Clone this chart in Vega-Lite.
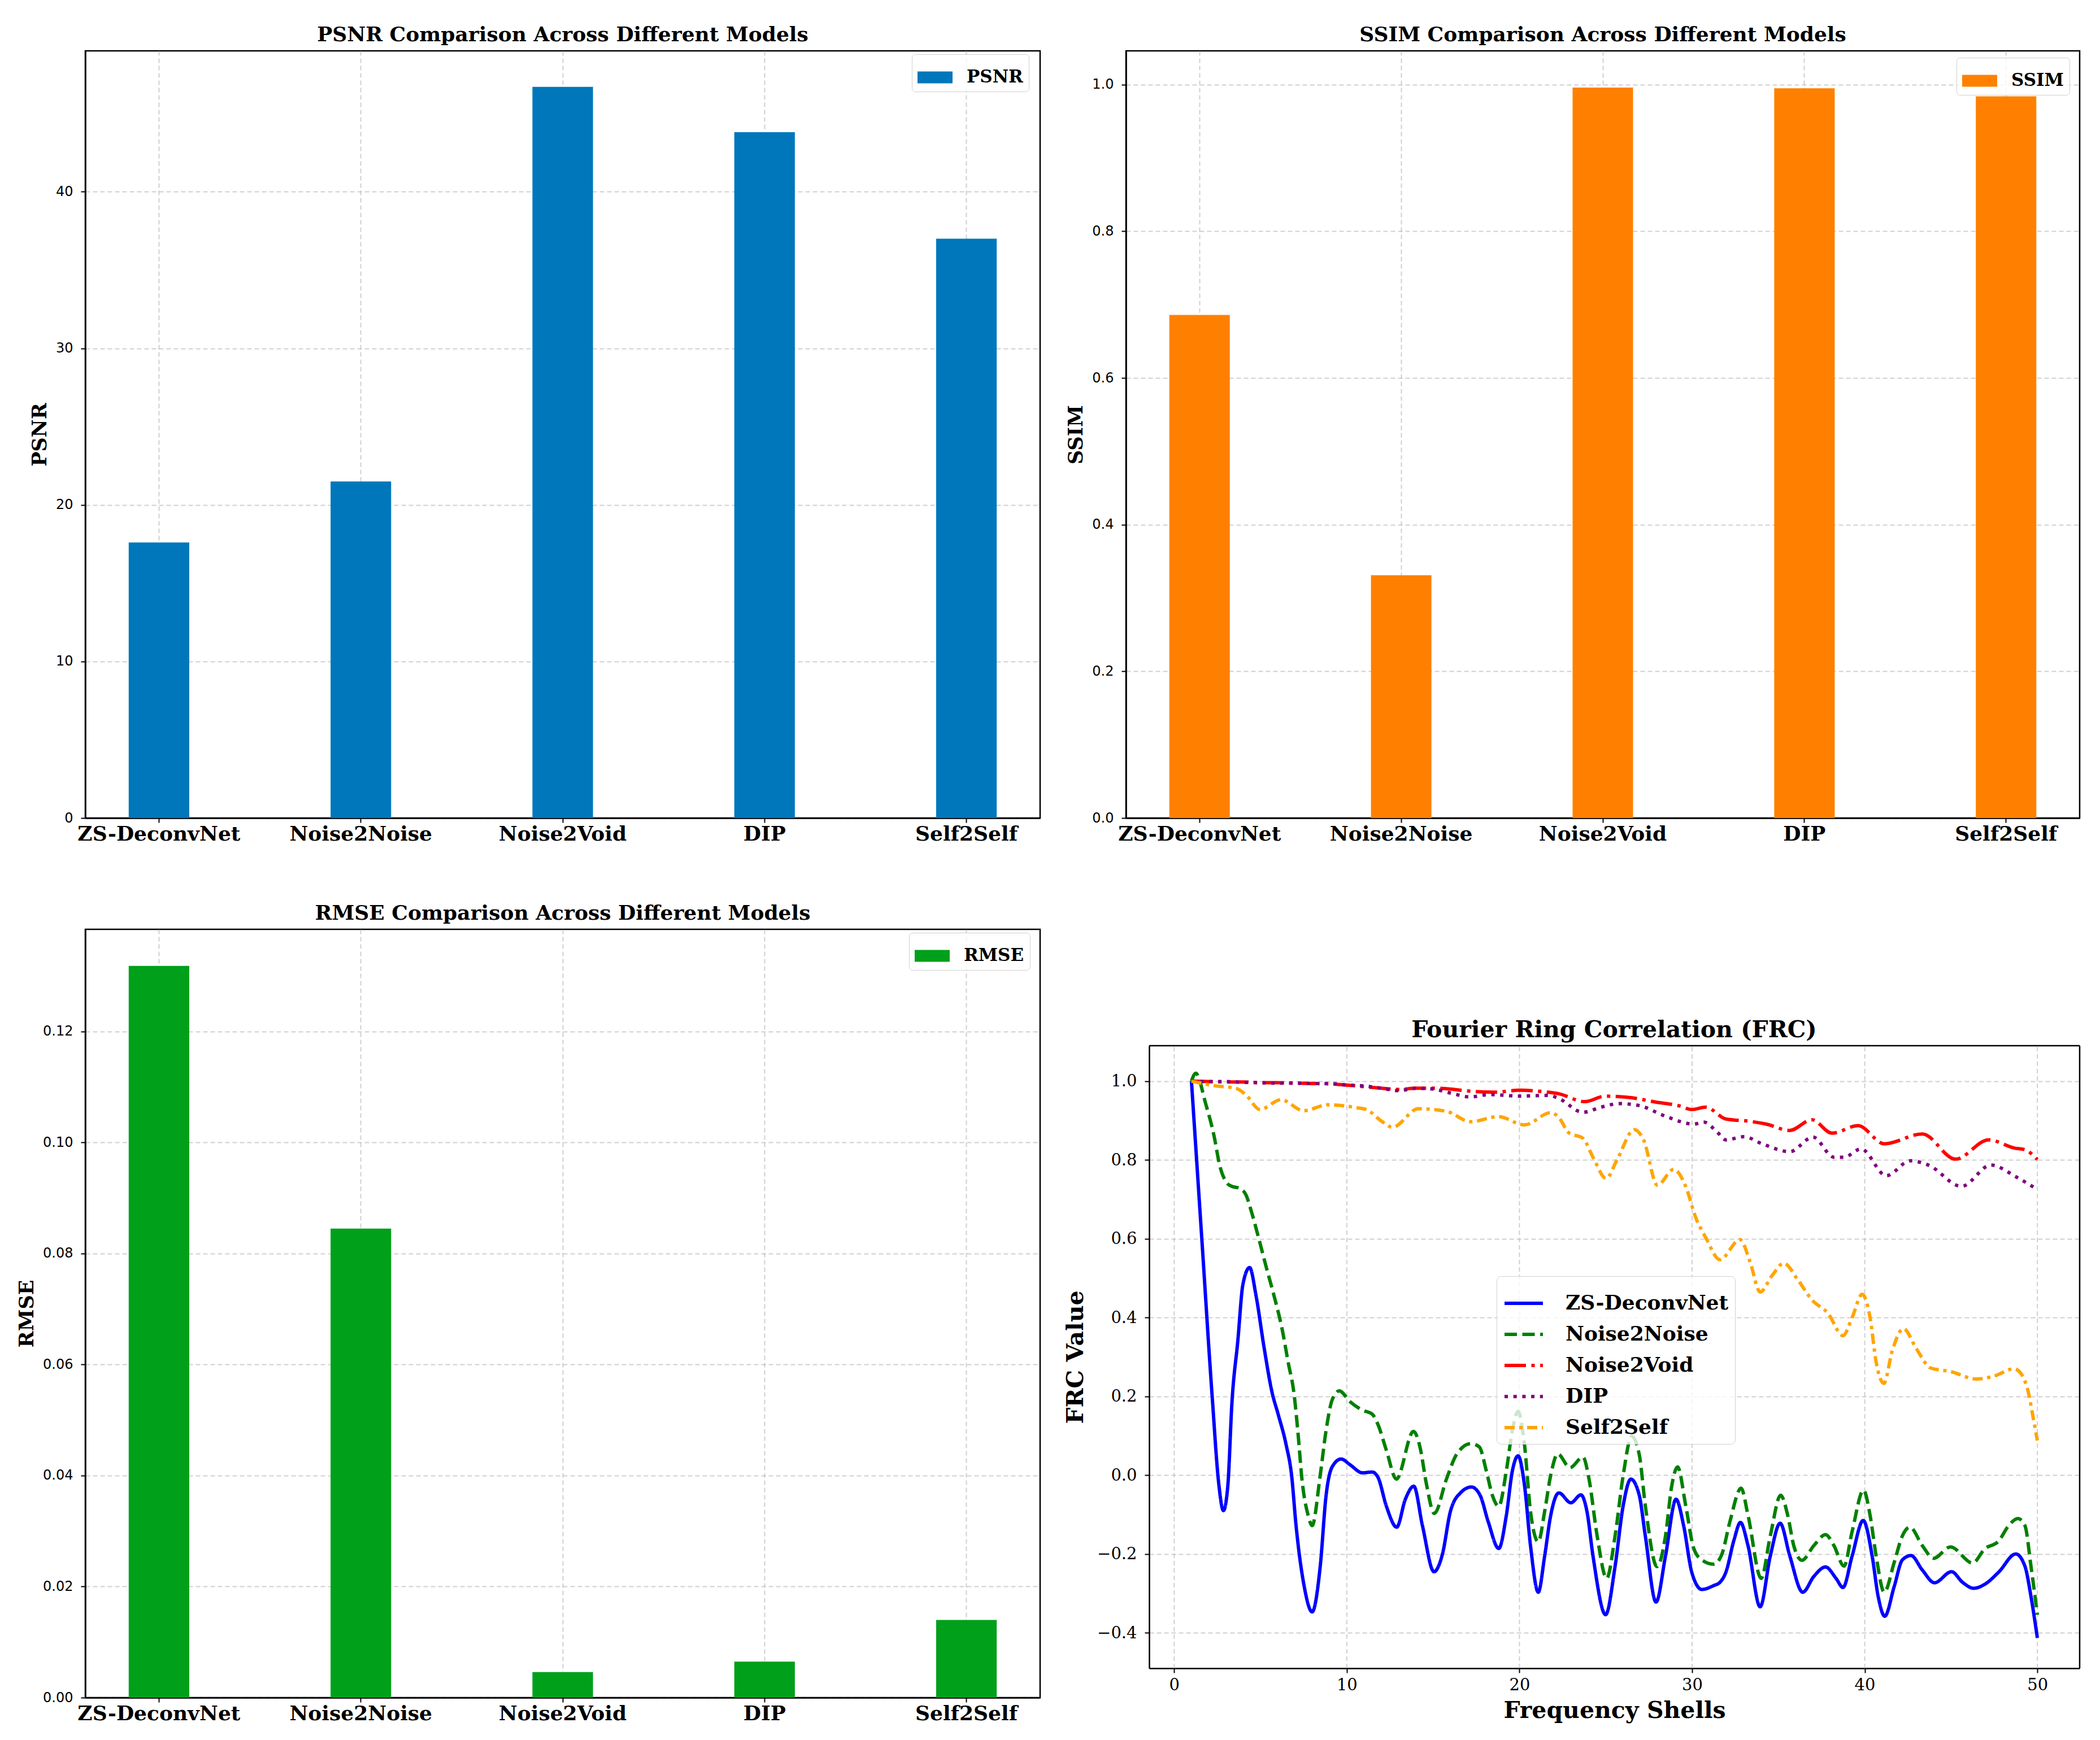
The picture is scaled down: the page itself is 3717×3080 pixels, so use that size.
{
  "$schema": "https://vega.github.io/schema/vega-lite/v6.json",
  "background": "white",
  "padding": {"left": 29, "top": 42, "right": 0, "bottom": 0},
  "datasets": {
    "metrics": [
      {"model": "ZS-DeconvNet", "PSNR": 17.6, "SSIM": 0.686, "RMSE": 0.1318},
      {"model": "Noise2Noise", "PSNR": 21.5, "SSIM": 0.331, "RMSE": 0.0845},
      {"model": "Noise2Void", "PSNR": 46.7, "SSIM": 0.996, "RMSE": 0.0046},
      {"model": "DIP", "PSNR": 43.8, "SSIM": 0.995, "RMSE": 0.0065},
      {"model": "Self2Self", "PSNR": 37.0, "SSIM": 0.984, "RMSE": 0.014}
    ],
    "frcgrid": [
      {"shell": 0}, {"shell": 10}, {"shell": 20}, {"shell": 30}, {"shell": 40}, {"shell": 50}
    ],
    "frc": [
      {"series": "ZS-DeconvNet", "shell": 1, "frc": 1.0},
      {"series": "ZS-DeconvNet", "shell": 1.6, "frc": 0.6},
      {"series": "ZS-DeconvNet", "shell": 2.2, "frc": 0.2},
      {"series": "ZS-DeconvNet", "shell": 2.59, "frc": -0.025},
      {"series": "ZS-DeconvNet", "shell": 2.85, "frc": -0.09},
      {"series": "ZS-DeconvNet", "shell": 3.11, "frc": -0.025},
      {"series": "ZS-DeconvNet", "shell": 3.34, "frc": 0.18},
      {"series": "ZS-DeconvNet", "shell": 3.69, "frc": 0.343},
      {"series": "ZS-DeconvNet", "shell": 3.98, "frc": 0.484},
      {"series": "ZS-DeconvNet", "shell": 4.37, "frc": 0.527},
      {"series": "ZS-DeconvNet", "shell": 4.74, "frc": 0.456},
      {"series": "ZS-DeconvNet", "shell": 5.2, "frc": 0.326},
      {"series": "ZS-DeconvNet", "shell": 5.67, "frc": 0.21},
      {"series": "ZS-DeconvNet", "shell": 6.02, "frc": 0.155},
      {"series": "ZS-DeconvNet", "shell": 6.48, "frc": 0.078},
      {"series": "ZS-DeconvNet", "shell": 6.8, "frc": 0.0},
      {"series": "ZS-DeconvNet", "shell": 7.06, "frc": -0.128},
      {"series": "ZS-DeconvNet", "shell": 7.53, "frc": -0.282},
      {"series": "ZS-DeconvNet", "shell": 7.99, "frc": -0.347},
      {"series": "ZS-DeconvNet", "shell": 8.46, "frc": -0.231},
      {"series": "ZS-DeconvNet", "shell": 8.8, "frc": -0.051},
      {"series": "ZS-DeconvNet", "shell": 9.15, "frc": 0.021},
      {"series": "ZS-DeconvNet", "shell": 9.67, "frc": 0.041},
      {"series": "ZS-DeconvNet", "shell": 10.2, "frc": 0.026},
      {"series": "ZS-DeconvNet", "shell": 10.9, "frc": 0.006},
      {"series": "ZS-DeconvNet", "shell": 11.47, "frc": 0.008},
      {"series": "ZS-DeconvNet", "shell": 11.8, "frc": -0.005},
      {"series": "ZS-DeconvNet", "shell": 12.3, "frc": -0.08},
      {"series": "ZS-DeconvNet", "shell": 12.89, "frc": -0.132},
      {"series": "ZS-DeconvNet", "shell": 13.39, "frc": -0.061},
      {"series": "ZS-DeconvNet", "shell": 13.88, "frc": -0.028},
      {"series": "ZS-DeconvNet", "shell": 14.38, "frc": -0.128},
      {"series": "ZS-DeconvNet", "shell": 15.05, "frc": -0.245},
      {"series": "ZS-DeconvNet", "shell": 15.54, "frc": -0.2},
      {"series": "ZS-DeconvNet", "shell": 16.0, "frc": -0.092},
      {"series": "ZS-DeconvNet", "shell": 16.58, "frc": -0.045},
      {"series": "ZS-DeconvNet", "shell": 17.22, "frc": -0.03},
      {"series": "ZS-DeconvNet", "shell": 17.72, "frc": -0.051},
      {"series": "ZS-DeconvNet", "shell": 18.19, "frc": -0.118},
      {"series": "ZS-DeconvNet", "shell": 18.8, "frc": -0.186},
      {"series": "ZS-DeconvNet", "shell": 19.24, "frc": -0.102},
      {"series": "ZS-DeconvNet", "shell": 19.59, "frc": 0.011},
      {"series": "ZS-DeconvNet", "shell": 19.92, "frc": 0.049},
      {"series": "ZS-DeconvNet", "shell": 20.29, "frc": -0.025},
      {"series": "ZS-DeconvNet", "shell": 20.64, "frc": -0.179},
      {"series": "ZS-DeconvNet", "shell": 21.09, "frc": -0.297},
      {"series": "ZS-DeconvNet", "shell": 21.46, "frc": -0.205},
      {"series": "ZS-DeconvNet", "shell": 21.81, "frc": -0.102},
      {"series": "ZS-DeconvNet", "shell": 22.28, "frc": -0.045},
      {"series": "ZS-DeconvNet", "shell": 22.98, "frc": -0.07},
      {"series": "ZS-DeconvNet", "shell": 23.56, "frc": -0.05},
      {"series": "ZS-DeconvNet", "shell": 23.91, "frc": -0.092},
      {"series": "ZS-DeconvNet", "shell": 24.26, "frc": -0.205},
      {"series": "ZS-DeconvNet", "shell": 24.99, "frc": -0.354},
      {"series": "ZS-DeconvNet", "shell": 25.54, "frc": -0.231},
      {"series": "ZS-DeconvNet", "shell": 26.01, "frc": -0.077},
      {"series": "ZS-DeconvNet", "shell": 26.45, "frc": -0.01},
      {"series": "ZS-DeconvNet", "shell": 26.94, "frc": -0.051},
      {"series": "ZS-DeconvNet", "shell": 27.29, "frc": -0.154},
      {"series": "ZS-DeconvNet", "shell": 27.91, "frc": -0.322},
      {"series": "ZS-DeconvNet", "shell": 28.46, "frc": -0.205},
      {"series": "ZS-DeconvNet", "shell": 29.07, "frc": -0.061},
      {"series": "ZS-DeconvNet", "shell": 29.51, "frc": -0.128},
      {"series": "ZS-DeconvNet", "shell": 29.98, "frc": -0.246},
      {"series": "ZS-DeconvNet", "shell": 30.56, "frc": -0.29},
      {"series": "ZS-DeconvNet", "shell": 31.26, "frc": -0.28},
      {"series": "ZS-DeconvNet", "shell": 31.61, "frc": -0.272},
      {"series": "ZS-DeconvNet", "shell": 31.96, "frc": -0.246},
      {"series": "ZS-DeconvNet", "shell": 32.43, "frc": -0.164},
      {"series": "ZS-DeconvNet", "shell": 32.8, "frc": -0.12},
      {"series": "ZS-DeconvNet", "shell": 33.24, "frc": -0.179},
      {"series": "ZS-DeconvNet", "shell": 33.94, "frc": -0.334},
      {"series": "ZS-DeconvNet", "shell": 34.53, "frc": -0.205},
      {"series": "ZS-DeconvNet", "shell": 35.1, "frc": -0.122},
      {"series": "ZS-DeconvNet", "shell": 35.66, "frc": -0.205},
      {"series": "ZS-DeconvNet", "shell": 36.41, "frc": -0.297},
      {"series": "ZS-DeconvNet", "shell": 37.05, "frc": -0.257},
      {"series": "ZS-DeconvNet", "shell": 37.73, "frc": -0.233},
      {"series": "ZS-DeconvNet", "shell": 38.34, "frc": -0.262},
      {"series": "ZS-DeconvNet", "shell": 38.74, "frc": -0.285},
      {"series": "ZS-DeconvNet", "shell": 39.27, "frc": -0.205},
      {"series": "ZS-DeconvNet", "shell": 39.91, "frc": -0.115},
      {"series": "ZS-DeconvNet", "shell": 40.43, "frc": -0.205},
      {"series": "ZS-DeconvNet", "shell": 40.78, "frc": -0.308},
      {"series": "ZS-DeconvNet", "shell": 41.16, "frc": -0.358},
      {"series": "ZS-DeconvNet", "shell": 41.71, "frc": -0.282},
      {"series": "ZS-DeconvNet", "shell": 42.18, "frc": -0.215},
      {"series": "ZS-DeconvNet", "shell": 42.68, "frc": -0.204},
      {"series": "ZS-DeconvNet", "shell": 43.34, "frc": -0.241},
      {"series": "ZS-DeconvNet", "shell": 44.04, "frc": -0.273},
      {"series": "ZS-DeconvNet", "shell": 45.03, "frc": -0.245},
      {"series": "ZS-DeconvNet", "shell": 45.67, "frc": -0.272},
      {"series": "ZS-DeconvNet", "shell": 46.31, "frc": -0.287},
      {"series": "ZS-DeconvNet", "shell": 46.95, "frc": -0.277},
      {"series": "ZS-DeconvNet", "shell": 47.76, "frc": -0.246},
      {"series": "ZS-DeconvNet", "shell": 48.75, "frc": -0.2},
      {"series": "ZS-DeconvNet", "shell": 49.28, "frc": -0.231},
      {"series": "ZS-DeconvNet", "shell": 49.63, "frc": -0.308},
      {"series": "ZS-DeconvNet", "shell": 50, "frc": -0.413},
      {"series": "Noise2Noise", "shell": 1, "frc": 1.0},
      {"series": "Noise2Noise", "shell": 1.25, "frc": 1.02},
      {"series": "Noise2Noise", "shell": 1.83, "frc": 0.942},
      {"series": "Noise2Noise", "shell": 2.3, "frc": 0.863},
      {"series": "Noise2Noise", "shell": 2.65, "frc": 0.784},
      {"series": "Noise2Noise", "shell": 3.05, "frc": 0.742},
      {"series": "Noise2Noise", "shell": 3.34, "frc": 0.733},
      {"series": "Noise2Noise", "shell": 3.81, "frc": 0.728},
      {"series": "Noise2Noise", "shell": 4.16, "frc": 0.711},
      {"series": "Noise2Noise", "shell": 4.5, "frc": 0.665},
      {"series": "Noise2Noise", "shell": 4.85, "frc": 0.609},
      {"series": "Noise2Noise", "shell": 5.32, "frc": 0.53},
      {"series": "Noise2Noise", "shell": 5.78, "frc": 0.456},
      {"series": "Noise2Noise", "shell": 6.25, "frc": 0.371},
      {"series": "Noise2Noise", "shell": 6.6, "frc": 0.287},
      {"series": "Noise2Noise", "shell": 6.95, "frc": 0.204},
      {"series": "Noise2Noise", "shell": 7.18, "frc": 0.103},
      {"series": "Noise2Noise", "shell": 7.4, "frc": -0.01},
      {"series": "Noise2Noise", "shell": 7.76, "frc": -0.102},
      {"series": "Noise2Noise", "shell": 7.99, "frc": -0.128},
      {"series": "Noise2Noise", "shell": 8.46, "frc": 0.0},
      {"series": "Noise2Noise", "shell": 8.8, "frc": 0.114},
      {"series": "Noise2Noise", "shell": 9.15, "frc": 0.191},
      {"series": "Noise2Noise", "shell": 9.56, "frc": 0.214},
      {"series": "Noise2Noise", "shell": 10.2, "frc": 0.186},
      {"series": "Noise2Noise", "shell": 10.9, "frc": 0.165},
      {"series": "Noise2Noise", "shell": 11.47, "frc": 0.155},
      {"series": "Noise2Noise", "shell": 11.8, "frc": 0.129},
      {"series": "Noise2Noise", "shell": 12.3, "frc": 0.062},
      {"series": "Noise2Noise", "shell": 12.87, "frc": -0.01},
      {"series": "Noise2Noise", "shell": 13.86, "frc": 0.111},
      {"series": "Noise2Noise", "shell": 14.26, "frc": 0.067},
      {"series": "Noise2Noise", "shell": 14.6, "frc": -0.02},
      {"series": "Noise2Noise", "shell": 15.07, "frc": -0.097},
      {"series": "Noise2Noise", "shell": 15.77, "frc": -0.01},
      {"series": "Noise2Noise", "shell": 16.35, "frc": 0.052},
      {"series": "Noise2Noise", "shell": 17.17, "frc": 0.08},
      {"series": "Noise2Noise", "shell": 17.67, "frc": 0.072},
      {"series": "Noise2Noise", "shell": 18.08, "frc": 0.011},
      {"series": "Noise2Noise", "shell": 18.43, "frc": -0.051},
      {"series": "Noise2Noise", "shell": 18.8, "frc": -0.079},
      {"series": "Noise2Noise", "shell": 19.24, "frc": 0.011},
      {"series": "Noise2Noise", "shell": 19.59, "frc": 0.114},
      {"series": "Noise2Noise", "shell": 19.92, "frc": 0.162},
      {"series": "Noise2Noise", "shell": 20.29, "frc": 0.078},
      {"series": "Noise2Noise", "shell": 20.64, "frc": -0.092},
      {"series": "Noise2Noise", "shell": 21.09, "frc": -0.169},
      {"series": "Noise2Noise", "shell": 21.46, "frc": -0.092},
      {"series": "Noise2Noise", "shell": 21.81, "frc": 0.0},
      {"series": "Noise2Noise", "shell": 22.22, "frc": 0.054},
      {"series": "Noise2Noise", "shell": 22.92, "frc": 0.019},
      {"series": "Noise2Noise", "shell": 23.68, "frc": 0.046},
      {"series": "Noise2Noise", "shell": 24.03, "frc": -0.01},
      {"series": "Noise2Noise", "shell": 24.5, "frc": -0.154},
      {"series": "Noise2Noise", "shell": 25.05, "frc": -0.262},
      {"series": "Noise2Noise", "shell": 25.54, "frc": -0.154},
      {"series": "Noise2Noise", "shell": 26.01, "frc": 0.0},
      {"series": "Noise2Noise", "shell": 26.5, "frc": 0.099},
      {"series": "Noise2Noise", "shell": 26.94, "frc": 0.052},
      {"series": "Noise2Noise", "shell": 27.29, "frc": -0.077},
      {"series": "Noise2Noise", "shell": 27.97, "frc": -0.232},
      {"series": "Noise2Noise", "shell": 28.46, "frc": -0.154},
      {"series": "Noise2Noise", "shell": 28.81, "frc": -0.03},
      {"series": "Noise2Noise", "shell": 29.16, "frc": 0.021},
      {"series": "Noise2Noise", "shell": 29.63, "frc": -0.077},
      {"series": "Noise2Noise", "shell": 30.09, "frc": -0.185},
      {"series": "Noise2Noise", "shell": 30.56, "frc": -0.215},
      {"series": "Noise2Noise", "shell": 31.26, "frc": -0.226},
      {"series": "Noise2Noise", "shell": 31.73, "frc": -0.2},
      {"series": "Noise2Noise", "shell": 32.19, "frc": -0.118},
      {"series": "Noise2Noise", "shell": 32.84, "frc": -0.033},
      {"series": "Noise2Noise", "shell": 33.24, "frc": -0.102},
      {"series": "Noise2Noise", "shell": 34.0, "frc": -0.262},
      {"series": "Noise2Noise", "shell": 34.53, "frc": -0.154},
      {"series": "Noise2Noise", "shell": 35.13, "frc": -0.051},
      {"series": "Noise2Noise", "shell": 35.54, "frc": -0.102},
      {"series": "Noise2Noise", "shell": 35.89, "frc": -0.179},
      {"series": "Noise2Noise", "shell": 36.36, "frc": -0.216},
      {"series": "Noise2Noise", "shell": 37.05, "frc": -0.179},
      {"series": "Noise2Noise", "shell": 37.73, "frc": -0.151},
      {"series": "Noise2Noise", "shell": 38.22, "frc": -0.179},
      {"series": "Noise2Noise", "shell": 38.8, "frc": -0.231},
      {"series": "Noise2Noise", "shell": 39.27, "frc": -0.143},
      {"series": "Noise2Noise", "shell": 39.93, "frc": -0.038},
      {"series": "Noise2Noise", "shell": 40.31, "frc": -0.102},
      {"series": "Noise2Noise", "shell": 40.66, "frc": -0.205},
      {"series": "Noise2Noise", "shell": 41.13, "frc": -0.297},
      {"series": "Noise2Noise", "shell": 41.71, "frc": -0.221},
      {"series": "Noise2Noise", "shell": 42.18, "frc": -0.154},
      {"series": "Noise2Noise", "shell": 42.62, "frc": -0.132},
      {"series": "Noise2Noise", "shell": 43.34, "frc": -0.179},
      {"series": "Noise2Noise", "shell": 43.98, "frc": -0.211},
      {"series": "Noise2Noise", "shell": 44.97, "frc": -0.182},
      {"series": "Noise2Noise", "shell": 46.25, "frc": -0.223},
      {"series": "Noise2Noise", "shell": 46.95, "frc": -0.187},
      {"series": "Noise2Noise", "shell": 47.76, "frc": -0.167},
      {"series": "Noise2Noise", "shell": 48.34, "frc": -0.128},
      {"series": "Noise2Noise", "shell": 48.87, "frc": -0.11},
      {"series": "Noise2Noise", "shell": 49.28, "frc": -0.128},
      {"series": "Noise2Noise", "shell": 49.63, "frc": -0.231},
      {"series": "Noise2Noise", "shell": 50, "frc": -0.354},
      {"series": "Noise2Void", "shell": 1, "frc": 1.0},
      {"series": "Noise2Void", "shell": 2, "frc": 0.999},
      {"series": "Noise2Void", "shell": 3, "frc": 0.998},
      {"series": "Noise2Void", "shell": 4, "frc": 0.998},
      {"series": "Noise2Void", "shell": 5, "frc": 0.996},
      {"series": "Noise2Void", "shell": 6, "frc": 0.996},
      {"series": "Noise2Void", "shell": 7, "frc": 0.995},
      {"series": "Noise2Void", "shell": 8, "frc": 0.994},
      {"series": "Noise2Void", "shell": 9, "frc": 0.993},
      {"series": "Noise2Void", "shell": 10, "frc": 0.99},
      {"series": "Noise2Void", "shell": 11, "frc": 0.986},
      {"series": "Noise2Void", "shell": 12, "frc": 0.982},
      {"series": "Noise2Void", "shell": 13, "frc": 0.979},
      {"series": "Noise2Void", "shell": 14, "frc": 0.982},
      {"series": "Noise2Void", "shell": 15, "frc": 0.982},
      {"series": "Noise2Void", "shell": 16, "frc": 0.98},
      {"series": "Noise2Void", "shell": 16.79, "frc": 0.976},
      {"series": "Noise2Void", "shell": 18.54, "frc": 0.972},
      {"series": "Noise2Void", "shell": 20, "frc": 0.977},
      {"series": "Noise2Void", "shell": 21.46, "frc": 0.973},
      {"series": "Noise2Void", "shell": 22.28, "frc": 0.968},
      {"series": "Noise2Void", "shell": 23.79, "frc": 0.948},
      {"series": "Noise2Void", "shell": 24.96, "frc": 0.962},
      {"series": "Noise2Void", "shell": 26.48, "frc": 0.958},
      {"series": "Noise2Void", "shell": 27.88, "frc": 0.947},
      {"series": "Noise2Void", "shell": 29.28, "frc": 0.937},
      {"series": "Noise2Void", "shell": 29.98, "frc": 0.928},
      {"series": "Noise2Void", "shell": 30.79, "frc": 0.934},
      {"series": "Noise2Void", "shell": 31.96, "frc": 0.904},
      {"series": "Noise2Void", "shell": 33.36, "frc": 0.898},
      {"series": "Noise2Void", "shell": 34.29, "frc": 0.891},
      {"series": "Noise2Void", "shell": 35.66, "frc": 0.875},
      {"series": "Noise2Void", "shell": 36.94, "frc": 0.902},
      {"series": "Noise2Void", "shell": 38.1, "frc": 0.868},
      {"series": "Noise2Void", "shell": 39.62, "frc": 0.887},
      {"series": "Noise2Void", "shell": 41.13, "frc": 0.841},
      {"series": "Noise2Void", "shell": 43.34, "frc": 0.866},
      {"series": "Noise2Void", "shell": 45.26, "frc": 0.802},
      {"series": "Noise2Void", "shell": 47.18, "frc": 0.851},
      {"series": "Noise2Void", "shell": 48.69, "frc": 0.83},
      {"series": "Noise2Void", "shell": 49.28, "frc": 0.826},
      {"series": "Noise2Void", "shell": 50, "frc": 0.801},
      {"series": "DIP", "shell": 1, "frc": 1.0},
      {"series": "DIP", "shell": 2, "frc": 0.999},
      {"series": "DIP", "shell": 3, "frc": 0.999},
      {"series": "DIP", "shell": 4, "frc": 0.997},
      {"series": "DIP", "shell": 5, "frc": 0.996},
      {"series": "DIP", "shell": 6, "frc": 0.995},
      {"series": "DIP", "shell": 7, "frc": 0.995},
      {"series": "DIP", "shell": 8, "frc": 0.994},
      {"series": "DIP", "shell": 9, "frc": 0.994},
      {"series": "DIP", "shell": 10, "frc": 0.99},
      {"series": "DIP", "shell": 11, "frc": 0.988},
      {"series": "DIP", "shell": 12, "frc": 0.982},
      {"series": "DIP", "shell": 13, "frc": 0.976},
      {"series": "DIP", "shell": 14, "frc": 0.982},
      {"series": "DIP", "shell": 15, "frc": 0.98},
      {"series": "DIP", "shell": 16, "frc": 0.97},
      {"series": "DIP", "shell": 17.14, "frc": 0.96},
      {"series": "DIP", "shell": 18.31, "frc": 0.966},
      {"series": "DIP", "shell": 20, "frc": 0.962},
      {"series": "DIP", "shell": 21.69, "frc": 0.964},
      {"series": "DIP", "shell": 22.28, "frc": 0.956},
      {"series": "DIP", "shell": 23.68, "frc": 0.921},
      {"series": "DIP", "shell": 24.73, "frc": 0.934},
      {"series": "DIP", "shell": 25.78, "frc": 0.943},
      {"series": "DIP", "shell": 26.94, "frc": 0.938},
      {"series": "DIP", "shell": 28.46, "frc": 0.911},
      {"series": "DIP", "shell": 30.09, "frc": 0.891},
      {"series": "DIP", "shell": 30.68, "frc": 0.896},
      {"series": "DIP", "shell": 31.49, "frc": 0.869},
      {"series": "DIP", "shell": 31.96, "frc": 0.851},
      {"series": "DIP", "shell": 33.01, "frc": 0.859},
      {"series": "DIP", "shell": 34.06, "frc": 0.841},
      {"series": "DIP", "shell": 35.66, "frc": 0.821},
      {"series": "DIP", "shell": 37.0, "frc": 0.858},
      {"series": "DIP", "shell": 38.22, "frc": 0.807},
      {"series": "DIP", "shell": 38.8, "frc": 0.807},
      {"series": "DIP", "shell": 39.79, "frc": 0.828},
      {"series": "DIP", "shell": 41.25, "frc": 0.76},
      {"series": "DIP", "shell": 42.64, "frc": 0.798},
      {"series": "DIP", "shell": 43.69, "frc": 0.787},
      {"series": "DIP", "shell": 45.61, "frc": 0.733},
      {"series": "DIP", "shell": 47.3, "frc": 0.787},
      {"series": "DIP", "shell": 48.81, "frc": 0.756},
      {"series": "DIP", "shell": 50, "frc": 0.725},
      {"series": "Self2Self", "shell": 1, "frc": 1.0},
      {"series": "Self2Self", "shell": 2.4, "frc": 0.988},
      {"series": "Self2Self", "shell": 3.58, "frc": 0.982},
      {"series": "Self2Self", "shell": 4.16, "frc": 0.965},
      {"series": "Self2Self", "shell": 4.97, "frc": 0.928},
      {"series": "Self2Self", "shell": 6.19, "frc": 0.953},
      {"series": "Self2Self", "shell": 7.5, "frc": 0.925},
      {"series": "Self2Self", "shell": 8.9, "frc": 0.94},
      {"series": "Self2Self", "shell": 10.66, "frc": 0.932},
      {"series": "Self2Self", "shell": 11.13, "frc": 0.928},
      {"series": "Self2Self", "shell": 12.06, "frc": 0.897},
      {"series": "Self2Self", "shell": 12.64, "frc": 0.883},
      {"series": "Self2Self", "shell": 14.15, "frc": 0.93},
      {"series": "Self2Self", "shell": 15.8, "frc": 0.923},
      {"series": "Self2Self", "shell": 17.17, "frc": 0.897},
      {"series": "Self2Self", "shell": 18.77, "frc": 0.91},
      {"series": "Self2Self", "shell": 20.29, "frc": 0.889},
      {"series": "Self2Self", "shell": 21.81, "frc": 0.92},
      {"series": "Self2Self", "shell": 22.28, "frc": 0.908},
      {"series": "Self2Self", "shell": 22.86, "frc": 0.869},
      {"series": "Self2Self", "shell": 23.68, "frc": 0.855},
      {"series": "Self2Self", "shell": 24.26, "frc": 0.807},
      {"series": "Self2Self", "shell": 25.02, "frc": 0.753},
      {"series": "Self2Self", "shell": 25.66, "frc": 0.801},
      {"series": "Self2Self", "shell": 26.65, "frc": 0.877},
      {"series": "Self2Self", "shell": 27.18, "frc": 0.852},
      {"series": "Self2Self", "shell": 27.99, "frc": 0.736},
      {"series": "Self2Self", "shell": 28.93, "frc": 0.776},
      {"series": "Self2Self", "shell": 29.63, "frc": 0.733},
      {"series": "Self2Self", "shell": 30.21, "frc": 0.654},
      {"series": "Self2Self", "shell": 30.79, "frc": 0.603},
      {"series": "Self2Self", "shell": 31.61, "frc": 0.547},
      {"series": "Self2Self", "shell": 32.78, "frc": 0.598},
      {"series": "Self2Self", "shell": 33.36, "frc": 0.541},
      {"series": "Self2Self", "shell": 33.94, "frc": 0.465},
      {"series": "Self2Self", "shell": 34.64, "frc": 0.507},
      {"series": "Self2Self", "shell": 35.31, "frc": 0.538},
      {"series": "Self2Self", "shell": 36.12, "frc": 0.496},
      {"series": "Self2Self", "shell": 36.94, "frc": 0.445},
      {"series": "Self2Self", "shell": 37.87, "frc": 0.411},
      {"series": "Self2Self", "shell": 38.74, "frc": 0.354},
      {"series": "Self2Self", "shell": 39.27, "frc": 0.4},
      {"series": "Self2Self", "shell": 39.85, "frc": 0.459},
      {"series": "Self2Self", "shell": 40.31, "frc": 0.4},
      {"series": "Self2Self", "shell": 40.66, "frc": 0.287},
      {"series": "Self2Self", "shell": 41.11, "frc": 0.233},
      {"series": "Self2Self", "shell": 41.59, "frc": 0.315},
      {"series": "Self2Self", "shell": 42.24, "frc": 0.372},
      {"series": "Self2Self", "shell": 42.99, "frc": 0.321},
      {"series": "Self2Self", "shell": 43.81, "frc": 0.272},
      {"series": "Self2Self", "shell": 44.97, "frc": 0.263},
      {"series": "Self2Self", "shell": 46.48, "frc": 0.244},
      {"series": "Self2Self", "shell": 47.53, "frc": 0.252},
      {"series": "Self2Self", "shell": 48.64, "frc": 0.27},
      {"series": "Self2Self", "shell": 49.05, "frc": 0.258},
      {"series": "Self2Self", "shell": 49.51, "frc": 0.204},
      {"series": "Self2Self", "shell": 49.74, "frc": 0.15},
      {"series": "Self2Self", "shell": 50, "frc": 0.088}
    ]
  },
  "columns": 2,
  "bounds": "flush",
  "spacing": {"row": 197, "column": 152},
  "resolve": {"scale": {"color": "independent", "strokeDash": "independent"}},
  "concat": [
    {
      "width": 1690,
      "height": 1358,
      "title": {"text": "PSNR Comparison Across Different Models"},
      "data": {"name": "metrics"},
      "mark": {"type": "bar"},
      "encoding": {
        "x": {
          "field": "model", "type": "nominal", "sort": null, "title": null,
          "scale": {"paddingInner": 0.7, "paddingOuter": 0.215}
        },
        "y": {
          "field": "PSNR", "type": "quantitative", "title": "PSNR",
          "scale": {"domain": [0, 49.0], "nice": false},
          "axis": {"values": [0, 10, 20, 30, 40], "format": "d"}
        },
        "color": {
          "datum": "PSNR", "type": "nominal",
          "scale": {"range": ["#0077bb"]},
          "legend": {"legendX": 1463, "legendY": 6}
        }
      }
    },
    {
      "width": 1688,
      "height": 1358,
      "title": {"text": "SSIM Comparison Across Different Models"},
      "data": {"name": "metrics"},
      "mark": {"type": "bar"},
      "encoding": {
        "x": {
          "field": "model", "type": "nominal", "sort": null, "title": null,
          "scale": {"paddingInner": 0.7, "paddingOuter": 0.215}
        },
        "y": {
          "field": "SSIM", "type": "quantitative", "title": "SSIM",
          "scale": {"domain": [0, 1.046], "nice": false},
          "axis": {"values": [0, 0.2, 0.4, 0.6, 0.8, 1.0], "format": ".1f"}
        },
        "color": {
          "datum": "SSIM", "type": "nominal",
          "scale": {"range": ["#ff8000"]},
          "legend": {"legendX": 1470, "legendY": 12}
        }
      }
    },
    {
      "width": 1690,
      "height": 1360,
      "title": {"text": "RMSE Comparison Across Different Models"},
      "data": {"name": "metrics"},
      "mark": {"type": "bar"},
      "encoding": {
        "x": {
          "field": "model", "type": "nominal", "sort": null, "title": null,
          "scale": {"paddingInner": 0.7, "paddingOuter": 0.215}
        },
        "y": {
          "field": "RMSE", "type": "quantitative", "title": "RMSE",
          "scale": {"domain": [0, 0.1384], "nice": false},
          "axis": {"values": [0, 0.02, 0.04, 0.06, 0.08, 0.1, 0.12], "format": ".2f"}
        },
        "color": {
          "datum": "RMSE", "type": "nominal",
          "scale": {"range": ["#00a01a"]},
          "legend": {"legendX": 1458, "legendY": 6}
        }
      }
    },
    {
      "width": 1688,
      "height": 1308,
      "view": {"stroke": null},
      "title": {"text": "Fourier Ring Correlation (FRC)", "fontSize": 41, "offset": 6, "dx": 20, "dy": 206},
      "layer": [
        {
          "data": {"name": "frcgrid"},
          "mark": {"type": "rule", "color": "#b0b0b0", "opacity": 0.6, "strokeWidth": 2, "strokeDash": [8, 5]},
          "encoding": {
            "x": {"field": "shell", "type": "quantitative"},
            "y": {"datum": -0.49},
            "y2": {"datum": 1.09}
          }
        },
        {
          "data": {"name": "frc"},
          "mark": {"type": "line", "strokeWidth": 6, "interpolate": "monotone"},
          "encoding": {
            "x": {
              "field": "shell", "type": "quantitative", "title": "Frequency Shells",
              "scale": {"domain": [-1.45, 52.45], "nice": false, "zero": false, "range": [41, 1688]},
              "axis": {
                "values": [0, 10, 20, 30, 40, 50], "format": "d", "zindex": 0, "grid": false,
                "labelFont": "DejaVu Serif", "labelFontWeight": "normal", "labelFontSize": 29,
                "labelPadding": 7, "titleFontSize": 41, "titlePadding": 11
              }
            },
            "y": {
              "field": "frc", "type": "quantitative", "title": "FRC Value",
              "scale": {"domain": [-0.49, 1.09], "nice": false, "zero": false, "range": [1308, 206]},
              "axis": {
                "values": [-0.4, -0.2, 0, 0.2, 0.4, 0.6, 0.8, 1.0], "format": ".1f", "zindex": 0,
                "offset": -41,
                "labelFont": "DejaVu Serif", "labelFontWeight": "normal", "labelFontSize": 29,
                "titleFontSize": 41, "titlePadding": 16
              }
            },
            "color": {
              "field": "series", "type": "nominal",
              "scale": {
                "domain": ["ZS-DeconvNet", "Noise2Noise", "Noise2Void", "DIP", "Self2Self"],
                "range": ["#0000ff", "#008000", "#ff0000", "#800080", "#ffa500"]
              },
              "legend": {
                "legendX": 656, "legendY": 614,
                "symbolType": "stroke", "symbolSize": 4624, "symbolStrokeWidth": 6,
                "labelFontSize": 36, "labelOffset": 37, "padding": 11, "rowPadding": 0,
                "cornerRadius": 8
              }
            },
            "strokeDash": {
              "field": "series", "type": "nominal",
              "scale": {
                "domain": ["ZS-DeconvNet", "Noise2Noise", "Noise2Void", "DIP", "Self2Self"],
                "range": [[1, 0], [22, 9.5], [38, 9.5, 6, 9.5], [6, 9.7], [18, 8, 6, 8]]
              },
              "legend": {
                "legendX": 656, "legendY": 614,
                "symbolType": "stroke", "symbolSize": 4624, "symbolStrokeWidth": 6,
                "labelFontSize": 36, "labelOffset": 37, "padding": 11, "rowPadding": 0,
                "cornerRadius": 8
              }
            }
          }
        },
        {
          "data": {"values": [{}]},
          "mark": {"type": "rule", "color": "#000000", "strokeWidth": 2.5},
          "encoding": {
            "x": {"datum": -1.45},
            "x2": {"datum": 52.45},
            "y": {"datum": 1.09}
          }
        },
        {
          "data": {"values": [{}]},
          "mark": {"type": "rule", "color": "#000000", "strokeWidth": 2.5},
          "encoding": {
            "x": {"datum": 52.45},
            "y": {"datum": -0.49},
            "y2": {"datum": 1.09}
          }
        }
      ]
    }
  ],
  "config": {
    "view": {"stroke": "#000000", "strokeWidth": 2.5},
    "title": {
      "font": "DejaVu Serif", "fontWeight": "bold", "fontSize": 36, "color": "#000000",
      "anchor": "middle", "frame": "group", "offset": 9
    },
    "axis": {
      "zindex": 1,
      "domain": true, "domainColor": "#000000", "domainWidth": 2.5,
      "ticks": true, "tickColor": "#000000", "tickWidth": 2, "tickSize": 8,
      "grid": true, "gridColor": "#b0b0b0", "gridOpacity": 0.6, "gridWidth": 2, "gridDash": [8, 5],
      "labelColor": "#000000", "labelLimit": 0,
      "titleFont": "DejaVu Serif", "titleFontWeight": "bold", "titleFontSize": 35,
      "titleColor": "#000000"
    },
    "axisX": {
      "labelFont": "DejaVu Serif", "labelFontWeight": "bold", "labelFontSize": 36,
      "labelAngle": 0, "bandPosition": 0.5, "labelPadding": 3
    },
    "axisY": {
      "labelFont": "DejaVu Sans", "labelFontSize": 24, "labelPadding": 14, "titlePadding": 10
    },
    "legend": {
      "orient": "none", "title": null,
      "labelFont": "DejaVu Serif", "labelFontWeight": "bold", "labelFontSize": 31,
      "labelColor": "#000000", "labelOffset": 25, "labelLimit": 0,
      "symbolType": "M-1,-0.34H1V0.34H-1Z", "symbolSize": 3844, "symbolStrokeWidth": 0,
      "symbolOpacity": 1,
      "padding": 10, "strokeColor": "#d0d0d0", "fillColor": "rgba(255,255,255,0.8)",
      "cornerRadius": 6
    }
  }
}
